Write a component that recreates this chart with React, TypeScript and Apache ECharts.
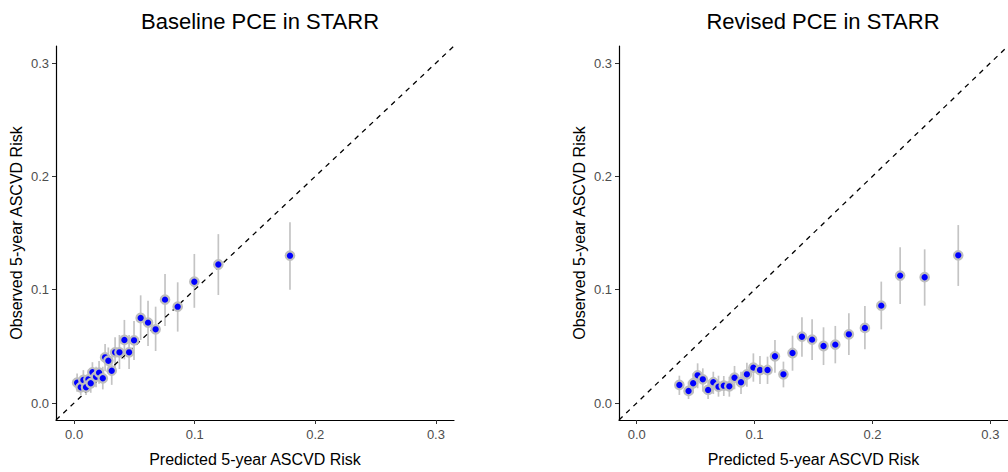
import React, { useEffect, useRef } from "react";
import * as echarts from "echarts";

// Baseline PCE in STARR
const leftX = [0.0025, 0.0055, 0.0077, 0.0099, 0.0119, 0.0138, 0.0152, 0.0182, 0.0207, 0.0238, 0.0257, 0.0284, 0.0312, 0.034, 0.0376, 0.0417, 0.0456, 0.0497, 0.0552, 0.0613, 0.0676, 0.0754, 0.0859, 0.0997, 0.1196, 0.179];
const leftY = [0.0179, 0.0139, 0.0203, 0.0139, 0.0209, 0.0174, 0.0271, 0.0232, 0.0268, 0.0218, 0.0403, 0.0373, 0.0285, 0.0447, 0.0447, 0.0556, 0.0447, 0.0553, 0.075, 0.0709, 0.065, 0.0912, 0.085, 0.107, 0.1222, 0.130];
const leftLo = [0.010, 0.007, 0.012, 0.007, 0.013, 0.009, 0.018, 0.014, 0.017, 0.012, 0.028, 0.026, 0.016, 0.031, 0.030, 0.0385, 0.030, 0.038, 0.0556, 0.0503, 0.0459, 0.068, 0.063, 0.084, 0.0953, 0.100];
const leftHi = [0.026, 0.022, 0.029, 0.022, 0.029, 0.026, 0.036, 0.032, 0.037, 0.032, 0.052, 0.049, 0.041, 0.058, 0.060, 0.0733, 0.060, 0.0724, 0.095, 0.0903, 0.085, 0.1138, 0.1065, 0.1315, 0.149, 0.1595];

// Revised PCE in STARR
const rightX = [0.0362, 0.044, 0.0479, 0.0517, 0.0561, 0.0606, 0.065, 0.0694, 0.0739, 0.0786, 0.083, 0.0885, 0.0935, 0.099, 0.1046, 0.111, 0.1173, 0.1245, 0.1322, 0.1402, 0.1488, 0.1585, 0.1685, 0.180, 0.1936, 0.2075, 0.2235, 0.2443, 0.2728];
const rightY = [0.0159, 0.0106, 0.0174, 0.0244, 0.0209, 0.0115, 0.0183, 0.0144, 0.0153, 0.0147, 0.0223, 0.0183, 0.0253, 0.0312, 0.0291, 0.0291, 0.0412, 0.0253, 0.0441, 0.0585, 0.0559, 0.0503, 0.0515, 0.0606, 0.0662, 0.0859, 0.1124, 0.111, 0.1303];
const rightLo = [0.0071, 0.0035, 0.0086, 0.013, 0.010, 0.0035, 0.0079, 0.0056, 0.0062, 0.0056, 0.0121, 0.0079, 0.0144, 0.0188, 0.0168, 0.0168, 0.0268, 0.0138, 0.0285, 0.0409, 0.038, 0.0335, 0.035, 0.0424, 0.0474, 0.065, 0.0874, 0.0859, 0.1033];
const rightHi = [0.0241, 0.0188, 0.0262, 0.035, 0.0306, 0.0203, 0.0276, 0.0241, 0.0238, 0.0232, 0.0327, 0.0276, 0.0356, 0.0438, 0.0415, 0.0409, 0.0556, 0.0365, 0.0594, 0.0756, 0.0738, 0.0668, 0.068, 0.0791, 0.0856, 0.1071, 0.1374, 0.1356, 0.157];

const ticks = [0, 0.1, 0.2, 0.3];
const axisMin = -0.015;
const axisMax = 0.315;
const identityLine = [[axisMin, axisMin], [axisMax, axisMax]];

const titles = ["Baseline PCE in STARR", "Revised PCE in STARR"];
const xTitle = "Predicted 5-year ASCVD Risk";
const yTitle = "Observed 5-year ASCVD Risk";

const FONT = "Liberation Sans, Arial, Helvetica, sans-serif";

export default function App() {
  const ref = useRef<HTMLDivElement>(null);
  useEffect(() => {
    if (!ref.current) return;
    const chart = echarts.init(ref.current, null, { renderer: "svg" });

    const mkAxis = (idx: number, isX: boolean) => ({
      gridIndex: idx,
      type: "value",
      min: axisMin,
      max: axisMax,
      name: isX ? xTitle : yTitle,
      nameLocation: "middle",
      nameGap: isX ? 31 : 32,
      nameTextStyle: { fontFamily: FONT, fontSize: 16, color: "#000" },
      axisLine: { show: true, onZero: false, lineStyle: { color: "#000", width: 1.2 } },
      axisTick: { show: true, length: 4, customValues: ticks, lineStyle: { color: "#333", width: 1 } },
      axisLabel: {
        customValues: ticks,
        margin: isX ? 8 : 7,
        fontFamily: FONT,
        fontSize: 13,
        color: "#4D4D4D",
        formatter: (v: number) => v.toFixed(1),
      },
      splitLine: { show: false },
    });

    const errRender = (params: any, api: any) => {
      const x = api.value(0);
      const p1 = api.coord([x, api.value(1)]);
      const p2 = api.coord([x, api.value(2)]);
      return {
        type: "line",
        shape: { x1: p1[0], y1: p1[1], x2: p2[0], y2: p2[1] },
        style: { stroke: "#C4C4C4", lineWidth: 1.7 },
      };
    };

    const panel = (idx: number, xs: number[], ys: number[], lo: number[], hi: number[]) => [
      {
        type: "custom",
        xAxisIndex: idx,
        yAxisIndex: idx,
        renderItem: errRender,
        data: xs.map((x, i) => [x, lo[i], hi[i]]),
        encode: { x: 0, y: [1, 2] },
        z: 1,
        silent: true,
      },
      {
        type: "line",
        xAxisIndex: idx,
        yAxisIndex: idx,
        data: identityLine,
        symbol: "none",
        lineStyle: { color: "#000", width: 1.3, type: [5, 5] },
        z: 2,
        silent: true,
      },
      {
        type: "scatter",
        xAxisIndex: idx,
        yAxisIndex: idx,
        data: xs.map((x, i) => [x, ys[i]]),
        symbolSize: 8.5,
        itemStyle: { color: "#0000FF", borderColor: "#BEBEBE", borderWidth: 2.2, opacity: 1 },
        z: 3,
        silent: true,
      },
    ];

    chart.setOption({
      animation: false,
      backgroundColor: "#fff",
      title: [
        { text: titles[0], left: 255, top: 5, textAlign: "center", textStyle: { fontFamily: FONT, fontSize: 22, fontWeight: "normal", color: "#000" } },
        { text: titles[1], left: 818, top: 5, textAlign: "center", textStyle: { fontFamily: FONT, fontSize: 22, fontWeight: "normal", color: "#000" } },
      ],
      grid: [
        { left: 56, top: 46, width: 398, height: 374 },
        { left: 619, top: 46, width: 398, height: 374 },
      ],
      xAxis: [mkAxis(0, true), mkAxis(1, true)],
      yAxis: [mkAxis(0, false), mkAxis(1, false)],
      series: [
        ...panel(0, leftX, leftY, leftLo, leftHi),
        ...panel(1, rightX, rightY, rightLo, rightHi),
      ],
    });
    return () => chart.dispose();
  }, []);
  return (
    <div
      ref={ref}
      style={{ position: "absolute", left: 0, top: 0, width: 1008, height: 472, overflow: "hidden" }}
    />
  );
}
